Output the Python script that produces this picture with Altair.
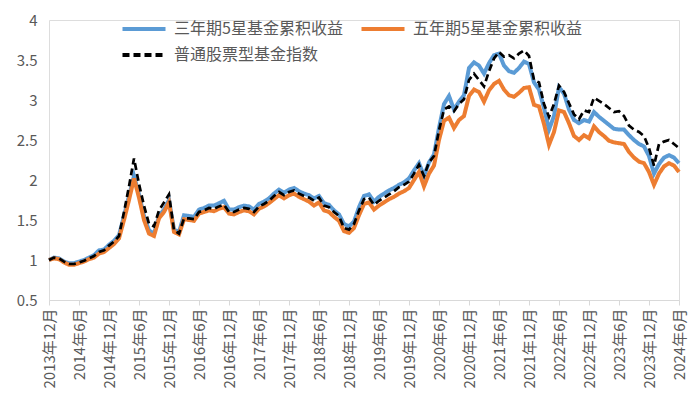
import altair as alt
import pandas as pd

tick_labels = ["2013年12月", "2014年6月", "2014年12月", "2015年6月", "2015年12月", "2016年6月",
               "2016年12月", "2017年6月", "2017年12月", "2018年6月", "2018年12月", "2019年6月",
               "2019年12月", "2020年6月", "2020年12月", "2021年6月", "2021年12月", "2022年6月",
               "2022年12月", "2023年6月", "2023年12月", "2024年6月"]

series_names = ["三年期5星基金累积收益", "五年期5星基金累积收益", "普通股票型基金指数"]

index_fund = [1.00, 1.03, 1.02, 0.98, 0.95, 0.95, 0.97, 0.99, 1.02, 1.05, 1.10, 1.12, 1.18, 1.23, 1.30,
              1.60, 1.92, 2.27, 1.95, 1.68, 1.45, 1.42, 1.62, 1.72, 1.82, 1.37, 1.33, 1.52, 1.52, 1.51,
              1.60, 1.62, 1.65, 1.64, 1.67, 1.69, 1.60, 1.60, 1.63, 1.65, 1.64, 1.60, 1.67, 1.70, 1.74,
              1.80, 1.85, 1.81, 1.85, 1.87, 1.83, 1.80, 1.78, 1.74, 1.78, 1.68, 1.66, 1.60, 1.55, 1.40,
              1.38, 1.45, 1.62, 1.76, 1.78, 1.69, 1.74, 1.78, 1.82, 1.86, 1.91, 1.94, 1.98, 2.08, 2.19,
              2.05, 2.22, 2.30, 2.62, 2.88, 2.92, 2.86, 2.95, 3.01, 3.25, 3.33, 3.25, 3.17, 3.36, 3.52,
              3.60, 3.54, 3.56, 3.52, 3.58, 3.62, 3.55, 3.25, 3.22, 2.95, 2.79, 2.95, 3.18, 3.10, 2.96,
              2.82, 2.76, 2.87, 2.85, 3.03, 2.99, 2.95, 2.90, 2.85, 2.86, 2.80, 2.68, 2.63, 2.60, 2.55,
              2.40, 2.18, 2.45, 2.48, 2.50, 2.45, 2.40]

three_year = [1.00, 1.03, 1.02, 0.98, 0.96, 0.96, 0.98, 1.00, 1.03, 1.06, 1.12, 1.13, 1.19, 1.24, 1.31,
              1.55, 1.80, 2.05, 1.82, 1.55, 1.37, 1.33, 1.55, 1.63, 1.75, 1.38, 1.35, 1.56, 1.55, 1.54,
              1.63, 1.65, 1.68, 1.68, 1.71, 1.74, 1.63, 1.63, 1.66, 1.68, 1.67, 1.63, 1.70, 1.73, 1.77,
              1.83, 1.88, 1.84, 1.88, 1.90, 1.86, 1.83, 1.81, 1.77, 1.80, 1.71, 1.69, 1.62, 1.57, 1.45,
              1.42, 1.48, 1.66, 1.80, 1.82, 1.73, 1.79, 1.83, 1.87, 1.90, 1.94, 1.97, 2.02, 2.12, 2.21,
              2.05, 2.22, 2.32, 2.65, 2.95, 3.05, 2.88, 2.98, 3.06, 3.40, 3.47, 3.43, 3.33, 3.46, 3.56,
              3.58, 3.43, 3.36, 3.34, 3.40, 3.48, 3.45, 3.22, 3.13, 2.90, 2.63, 2.80, 3.16, 3.08, 2.88,
              2.75, 2.71, 2.75, 2.73, 2.85, 2.79, 2.74, 2.69, 2.64, 2.63, 2.63, 2.56, 2.50, 2.45, 2.42,
              2.30, 2.08, 2.20, 2.28, 2.31, 2.28, 2.21]

five_year = [1.00, 1.02, 1.01, 0.97, 0.94, 0.94, 0.96, 0.98, 1.01, 1.03, 1.08, 1.10, 1.15, 1.20, 1.27,
             1.50, 1.75, 2.02, 1.78, 1.50, 1.33, 1.30, 1.52, 1.60, 1.72, 1.35, 1.32, 1.51, 1.50, 1.49,
             1.58, 1.60, 1.62, 1.61, 1.64, 1.66, 1.58, 1.57, 1.60, 1.62, 1.61, 1.57, 1.64, 1.67, 1.71,
             1.76, 1.81, 1.77, 1.81, 1.83, 1.79, 1.76, 1.73, 1.68, 1.72, 1.62, 1.60, 1.54, 1.49, 1.36,
             1.34, 1.40, 1.56, 1.70, 1.72, 1.63, 1.68, 1.72, 1.76, 1.79, 1.83, 1.86, 1.90, 2.00, 2.10,
             1.92, 2.08, 2.18, 2.50, 2.74, 2.78, 2.65, 2.75, 2.80, 3.05, 3.13, 3.10, 2.98, 3.12, 3.20,
             3.24, 3.13, 3.06, 3.04, 3.09, 3.15, 3.16, 2.94, 2.92, 2.70, 2.44, 2.60, 2.87, 2.85, 2.71,
             2.55, 2.50, 2.56, 2.52, 2.67, 2.60, 2.55, 2.49, 2.47, 2.46, 2.45, 2.35, 2.28, 2.23, 2.21,
             2.10, 1.94, 2.08, 2.17, 2.21, 2.18, 2.10]

rows = []
for name, vals in zip(series_names, [three_year, five_year, index_fund]):
    for i, v in enumerate(vals):
        rows.append({"idx": i, "value": v, "series": name, "series_dash": name})
df = pd.DataFrame(rows)

font = "Noto Sans CJK SC"
text_color = "#595959"
label_expr = "[" + ",".join("'%s'" % s for s in tick_labels) + "][round(datum.value/6)]"

legend_common = dict(title=None, orient="none", legendX=71, direction="horizontal",
                     columns=2, columnPadding=10, symbolType="stroke", symbolSize=1850,
                     symbolStrokeWidth=4, labelFontSize=16, labelColor=text_color,
                     labelFont=font, labelOffset=6, labelLimit=400, padding=0)

# dash scale uses a differently ordered domain so that its legend stays separate
dash_domain = [series_names[2], series_names[0], series_names[1]]

base = alt.Chart(df).encode(
    x=alt.X("idx:Q", scale=alt.Scale(domain=[0, 126], nice=False, zero=False),
            axis=alt.Axis(values=list(range(0, 127, 6)), labelExpr=label_expr, labelAngle=-90,
                          title=None, grid=False, domainColor="#d9d9d9", tickColor="#d9d9d9",
                          tickSize=5, labelFontSize=15, labelColor=text_color, labelFont=font,
                          labelPadding=3, labelOverlap=False)),
    y=alt.Y("value:Q", scale=alt.Scale(domain=[0.5, 4], nice=False, zero=False),
            axis=alt.Axis(values=[0.5, 1, 1.5, 2, 2.5, 3, 3.5, 4], format="~g", title=None,
                          grid=False, domain=False, ticks=False, labelFontSize=15,
                          labelColor=text_color, labelFont=font, labelPadding=12)),
    color=alt.Color("series:N", scale=alt.Scale(domain=series_names,
                                                range=["#5B9BD5", "#ED7D31", "#000000"]),
                    legend=alt.Legend(values=series_names[:2], legendY=-15, **legend_common)),
    strokeDash=alt.StrokeDash("series_dash:N",
                              scale=alt.Scale(domain=dash_domain,
                                              range=[[7, 4], [1, 0], [1, 0]]),
                              legend=alt.Legend(values=series_names[2:], legendY=11,
                                                symbolStrokeColor="#000000", **legend_common)),
)

l_blue = base.transform_filter(alt.datum.series == series_names[0]).mark_line(strokeWidth=4)
l_orange = base.transform_filter(alt.datum.series == series_names[1]).mark_line(strokeWidth=4)
l_black = base.transform_filter(alt.datum.series == series_names[2]).mark_line(strokeWidth=2.7)

chart = alt.layer(l_blue, l_orange, l_black).properties(
    width=630, height=280,
    padding={"left": 49, "top": 20, "right": 21, "bottom": 113},
    autosize=alt.AutoSizeParams(type="none"),
).configure_view(stroke=None).configure(background="white")

chart.save("out.html", embed_options={"renderer": "svg", "actions": False})
